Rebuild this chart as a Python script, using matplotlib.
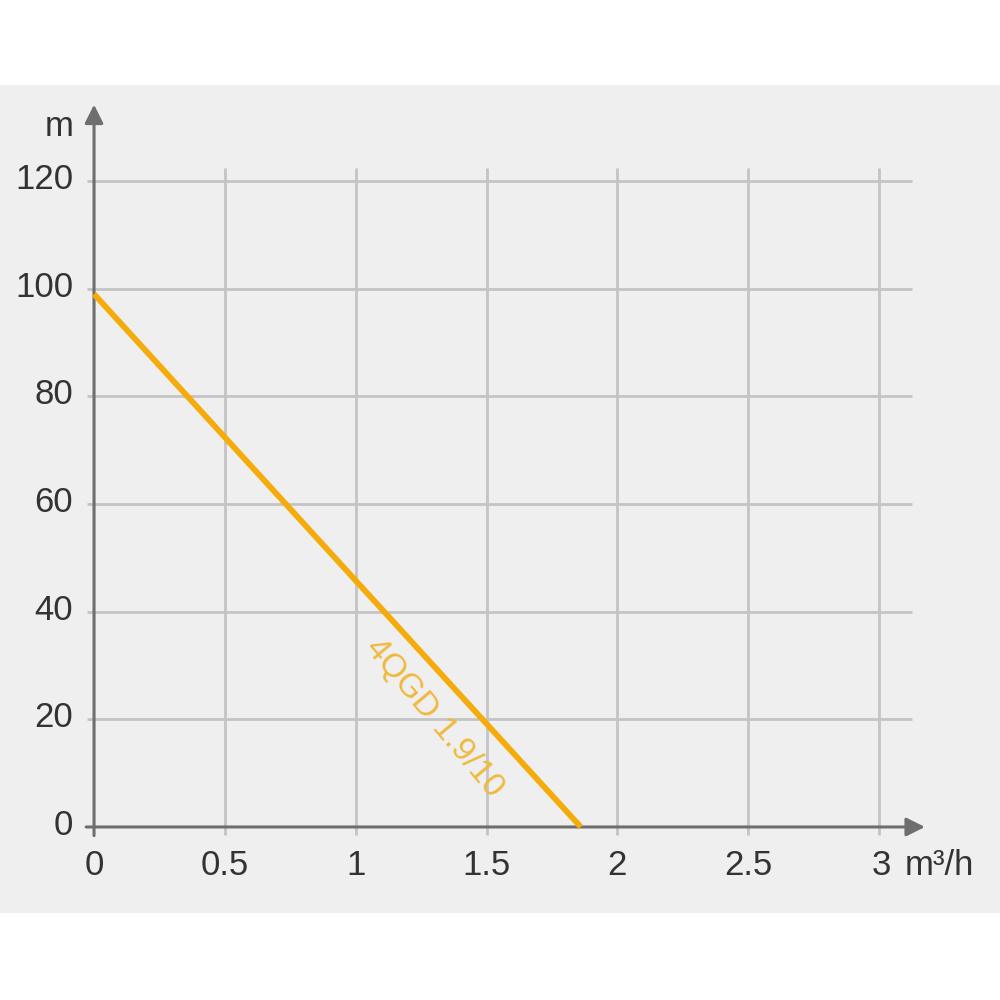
import matplotlib
matplotlib.use("Agg")
import matplotlib.pyplot as plt
from matplotlib.patches import Rectangle

plt.rcParams['font.family'] = ['Liberation Sans', 'DejaVu Sans']

# Data
flow = [0.0, 1.86]          # m³/h
head = [99.0, 0.0]          # m
x_ticks = [0, 0.5, 1, 1.5, 2, 2.5, 3]
x_tick_labels = ['0', '0.5', '1', '1.5', '2', '2.5', '3']
y_ticks = [0, 20, 40, 60, 80, 100, 120]
y_tick_labels = ['0', '20', '40', '60', '80', '100', '120']
curve_label = '4QGD 1.9/10'
x_unit = 'm³/h'
y_unit = 'm'

bg = '#efefef'
grid_c = '#c4c4c4'
axis_c = '#6e6e6e'
text_c = '#333333'
line_c = '#f5ab0a'
label_c = '#f1b83c'

fig = plt.figure(figsize=(10, 10), dpi=100)
fig.patch.set_facecolor('white')
fig.patches.append(Rectangle((0, 0.087), 1, 0.828, transform=fig.transFigure,
                             facecolor=bg, edgecolor='none', zorder=-10))

ax = fig.add_axes([0.0417, 0.1192, 0.9421, 0.8074])
ax.set_zorder(1)
ax.set_xlim(-0.2, 3.4)
ax.set_ylim(-10, 140)
ax.axis('off')

# grid
for xv in x_ticks[1:]:
    ax.plot([xv, xv], [-1.5, 122.5], color=grid_c, lw=2, zorder=1, solid_capstyle='butt')
for yv in y_ticks[1:]:
    ax.plot([-0.025, 3.125], [yv, yv], color=grid_c, lw=2, zorder=1, solid_capstyle='butt')

# axes with arrows
ax.annotate('', xy=(3.175, 0), xytext=(-0.03, 0),
            arrowprops=dict(arrowstyle='-|>', color=axis_c, lw=2.2,
                            mutation_scale=28, shrinkA=0, shrinkB=0), zorder=3)
ax.annotate('', xy=(0, 134.2), xytext=(0, -1.6),
            arrowprops=dict(arrowstyle='-|>', color=axis_c, lw=2.2,
                            mutation_scale=28, shrinkA=0, shrinkB=0), zorder=3)

# tick labels
for xv, lab in zip(x_ticks, x_tick_labels):
    ax.text(xv + (0.008 if lab == '3' else 0), -8.9, lab, ha='center', va='baseline',
            fontsize=25, color=text_c)
for yv, lab in zip(y_ticks, y_tick_labels):
    ax.text(-0.08, yv - 1.5, lab, ha='right', va='baseline', fontsize=25, color=text_c)

ax.text(3.099, -8.9, x_unit, ha='left', va='baseline', fontsize=25, color=text_c)
ax.text(-0.08, 128.4, y_unit, ha='right', va='baseline', fontsize=25, color=text_c)

# curve
ax.plot(flow, head, color=line_c, lw=4.2, zorder=4, solid_capstyle='butt')
ax.text(1.30, 20.3, curve_label, rotation=-50, ha='center', va='center',
        fontsize=24, color=label_c, zorder=4, rotation_mode='anchor')

fig.savefig('out.png', dpi=100)
